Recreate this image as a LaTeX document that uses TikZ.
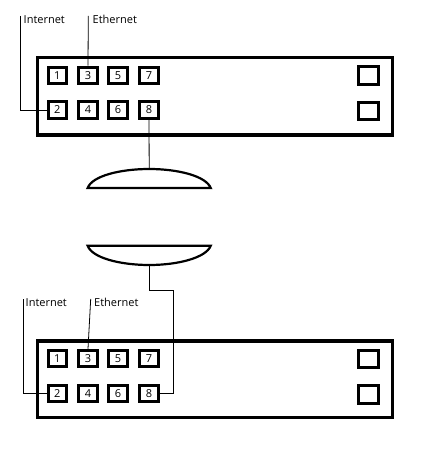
\documentclass[tikz,border=0pt]{standalone}
\usepackage{fontspec}
\setmainfont{Open Sans}
\begin{document}
\begin{tikzpicture}[x=1pt,y=-1pt,
  port/.style={draw, line width=3pt, minimum width=18.5pt, minimum height=16.5pt, inner sep=0pt, font=\fontsize{11}{12}\selectfont},
  sidebox/.style={draw, line width=3pt, minimum width=20pt, minimum height=17.5pt, inner sep=0pt},
  panel/.style={draw, line width=3.3pt},
  lens/.style={draw, line width=2.2pt, fill=white},
  wire/.style={draw, line width=0.8pt},
  lbl/.style={font=\fontsize{11}{12}\selectfont, inner sep=0pt, anchor=base west}
]
\useasboundingbox (0,0) rectangle (432,457);
% top panel
\draw[panel] (37.5,57.7) rectangle (392.7,135);
\node[port] (t1) at (57.3,75.3) {1};
\node[port] (t3) at (88,75.3) {3};
\node[port] (t5) at (118,75.3) {5};
\node[port] (t7) at (149,75.3) {7};
\node[port] (t2) at (57.3,110) {2};
\node[port] (t4) at (88,110) {4};
\node[port] (t6) at (118,110) {6};
\node[port] (t8) at (149,110) {8};
\node[sidebox] (ts1) at (368.3,75.7) {};
\node[sidebox] (ts2) at (368.3,111.2) {};
\node[lbl] (tinet) at (23.5,24) {Internet};
\node[lbl] (teth) at (92.5,24) {Ethernet};
\coordinate (tia) at (20.7,16);
\coordinate (tea) at (88.3,16);
\draw[wire] (tia) |- (t2.west);
\draw[wire] (tea) -- (t3.north);
% lenses
\coordinate (lensA) at (149.2,169);
\coordinate (lensB) at (149.2,265);
\draw[lens] (87.7,188) .. controls (92,176) and (120,169) .. (lensA)
  .. controls (178,169) and (206,176) .. (210.7,188) -- cycle;
\draw[lens] (87.7,245.8) .. controls (92,257.8) and (120,265) .. (lensB)
  .. controls (178,265) and (206,257.8) .. (210.7,245.8) -- cycle;
\draw[wire] (t8.south) -- (lensA);
% bottom panel
\draw[panel] (37.5,341) rectangle (392.7,417.7);
\node[port] (b1) at (57.3,358.5) {1};
\node[port] (b3) at (88,358.5) {3};
\node[port] (b5) at (118,358.5) {5};
\node[port] (b7) at (149,358.5) {7};
\node[port] (b2) at (57.3,393.5) {2};
\node[port] (b4) at (88,393.5) {4};
\node[port] (b6) at (118,393.5) {6};
\node[port] (b8) at (149,393.5) {8};
\node[sidebox] (bs1) at (368.3,359.2) {};
\node[sidebox] (bs2) at (368.3,394.7) {};
\node[lbl] (binet) at (25.5,306.7) {Internet};
\node[lbl] (beth) at (94,306.7) {Ethernet};
\coordinate (bia) at (23.3,299);
\coordinate (bea) at (90.7,299);
\draw[wire] (bia) |- (b2.west);
\draw[wire] (bea) -- (b3.north);
\coordinate (bend1) at (149.2,290);
\coordinate (bend2) at (173.3,290);
\draw[wire] (lensB) -- (bend1) -- (bend2) |- (b8.east);
\end{tikzpicture}
\end{document}
